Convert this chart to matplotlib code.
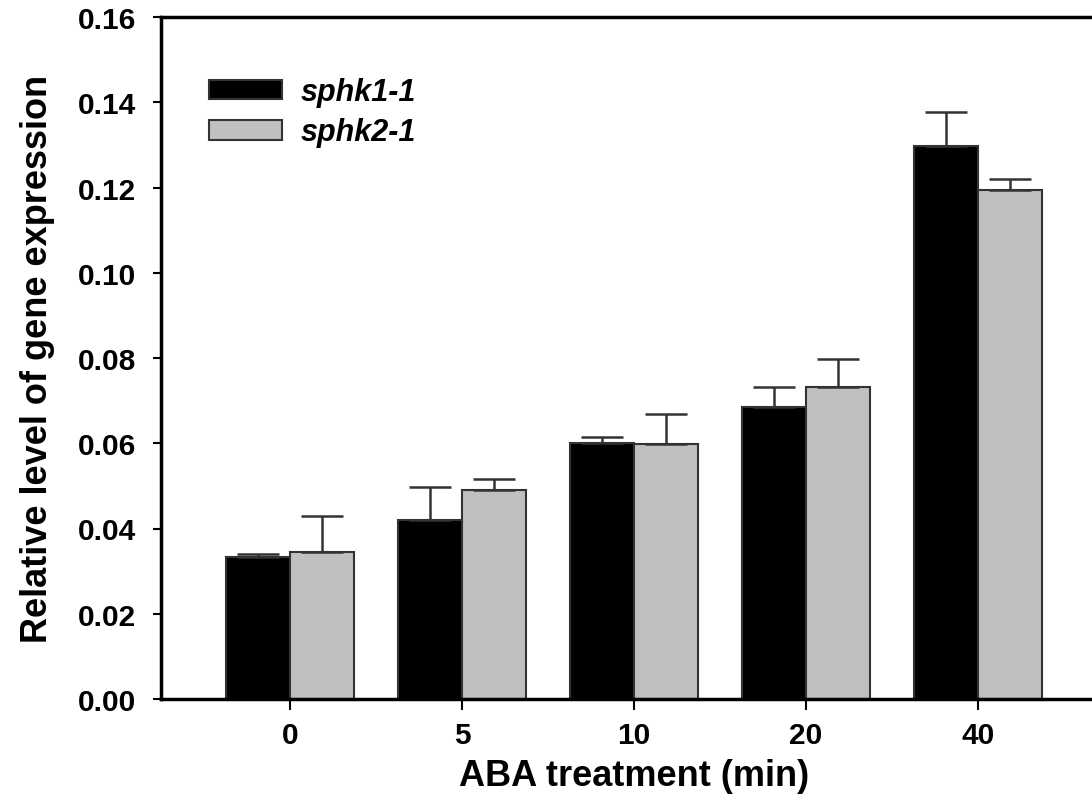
import numpy as np
import matplotlib
matplotlib.use("Agg")
import matplotlib.pyplot as plt

plt.rcParams['font.family'] = ['Liberation Sans', 'DejaVu Sans']
plt.rcParams['font.weight'] = 'bold'

times = ["0", "5", "10", "20", "40"]
sphk1 = [0.0333, 0.0420, 0.0601, 0.0686, 0.1297]
sphk1_err = [0.0008, 0.0077, 0.0013, 0.0045, 0.0080]
sphk2 = [0.0345, 0.0491, 0.0598, 0.0731, 0.1194]
sphk2_err = [0.0085, 0.0025, 0.0070, 0.0067, 0.0027]

fig = plt.figure(figsize=(10.92, 8.03), dpi=100)
ax = fig.add_axes([161/1092, 1 - 700/803, (1107 - 161)/1092, (700 - 18)/803])

x = np.arange(len(times))
w = 0.37
ekw = dict(elinewidth=1.8, capthick=1.8, ecolor='#333333')
ax.bar(x - w/2, sphk1, w, color='black', edgecolor='#333333', linewidth=1.5,
       yerr=[np.zeros(5), sphk1_err], capsize=15, error_kw=ekw, label='sphk1-1', zorder=2)
ax.bar(x + w/2, sphk2, w, color='#c0c0c0', edgecolor='#333333', linewidth=1.5,
       yerr=[np.zeros(5), sphk2_err], capsize=15, error_kw=ekw, label='sphk2-1', zorder=2)

ax.set_xlim(-0.75, 4.75)
ax.set_ylim(0, 0.16)
yt = np.arange(0, 0.161, 0.02)
ax.set_yticks(yt)
ax.set_yticklabels([f"{v:.2f}" for v in yt])
ax.set_xticks(x)
ax.set_xticklabels(times)
ax.tick_params(axis='both', labelsize=21.5, direction='out', width=1.5, colors='black')
ax.tick_params(axis='y', length=6, pad=12)
ax.tick_params(axis='x', length=8, pad=8)
for s in ax.spines.values():
    s.set_linewidth(2.5)

ax.set_xlabel("ABA treatment (min)", fontsize=26, fontweight='bold', labelpad=6)
ax.set_ylabel("Relative level of gene expression", fontsize=26, fontweight='bold', labelpad=16)

ax.legend(loc='upper left', bbox_to_anchor=(33/946, 0.934), frameon=False, borderpad=0,
          prop=dict(size=22, style='italic', weight='bold'),
          handlelength=2.38, handleheight=0.62, handletextpad=0.6, labelspacing=0.33)

fig.savefig("out.png", dpi=100)
